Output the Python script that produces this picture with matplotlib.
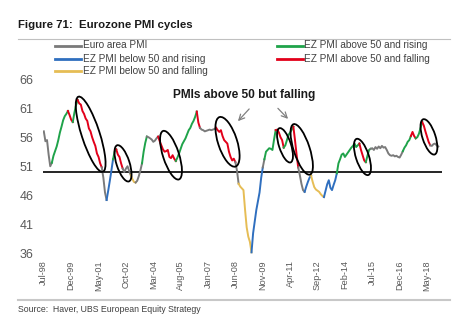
import numpy as np
import matplotlib
matplotlib.use("Agg")
import matplotlib.pyplot as plt
from matplotlib.patches import Ellipse
from matplotlib.lines import Line2D
from matplotlib.transforms import IdentityTransform

plt.rcParams['font.family'] = ['Liberation Sans', 'DejaVu Sans']

# Eurozone composite PMI, monthly from Jul-98
pmi = np.array([
    57.0, 55.3, 55.5, 53.0, 51.0, 51.6, 52.8, 53.6, 54.4, 55.5,
    56.8, 57.8, 58.9, 59.6, 60.0, 60.5, 59.8, 59.0, 58.6, 60.2,
    61.5, 62.4, 61.8, 61.6, 60.5, 60.0, 59.2, 58.8, 57.5, 57.0,
    56.0, 55.2, 54.5, 53.2, 52.6, 51.5, 50.8, 49.0, 46.5, 45.2,
    46.8, 48.5, 50.3, 52.2, 53.5, 53.9, 53.0, 52.6, 51.5, 50.6,
    50.0, 50.6, 51.0, 50.2, 49.5, 48.8, 48.3, 48.2, 48.5, 49.3,
    50.3, 51.5, 53.5, 55.0, 56.1, 56.0, 55.8, 55.6, 55.2, 55.4,
    55.8, 56.1, 55.3, 54.6, 53.9, 53.5, 53.6, 53.8, 52.6, 52.4,
    52.9, 52.3, 51.9, 52.5, 53.2, 54.0, 54.8, 55.3, 55.8, 56.5,
    57.2, 57.6, 58.3, 58.8, 59.5, 60.4, 58.5, 57.6, 57.3, 57.2,
    57.0, 57.1, 57.2, 57.3, 57.2, 57.3, 57.4, 57.6, 57.2, 56.9,
    57.2, 56.2, 55.5, 55.2, 54.9, 53.5, 52.6, 52.0, 52.3, 51.7,
    50.2, 48.0, 47.5, 47.2, 46.9, 43.5, 40.5, 38.9, 38.0, 36.2,
    39.5, 41.5, 43.5, 45.0, 46.5, 49.0, 50.8, 52.2, 53.5, 53.8,
    54.1, 54.0, 53.8, 55.6, 57.2, 57.3, 56.8, 56.0, 55.5, 54.2,
    54.6, 55.5, 56.4, 56.8, 57.3, 57.8, 55.5, 53.0, 50.8, 49.5,
    48.0, 46.9, 46.6, 47.5, 48.3, 49.0, 49.4, 48.3, 47.4, 47.0,
    46.8, 46.6, 46.2, 45.9, 45.7, 46.8, 47.9, 48.6, 47.3, 46.9,
    47.8, 48.6, 49.8, 51.5, 52.2, 53.0, 53.2, 52.6, 53.0, 53.4,
    53.8, 54.2, 54.5, 54.9, 54.3, 54.6, 54.9, 53.8, 52.9, 52.0,
    51.7, 52.8, 53.8, 54.0, 54.1, 53.8, 54.3, 54.0, 54.4, 54.1,
    54.5, 54.2, 54.3, 53.8, 53.2, 52.9, 52.8, 52.9, 52.7, 52.8,
    52.6, 52.5, 53.0, 53.6, 54.2, 54.6, 55.2, 55.5, 56.2, 56.9,
    56.2, 55.8, 56.0, 56.6, 57.6, 58.6, 58.0, 57.0, 56.1, 55.2,
    54.6, 54.5, 54.8, 54.9, 54.6, 54.4,
])

# cycle phases: month where each phase begins and its kind
phase_start = [0, 5, 15, 18, 21, 36, 39, 43, 45, 49,
               54, 57, 61, 64, 71, 82, 95, 97, 107, 119,
               121, 129, 136, 137, 144, 149, 155, 158, 162, 166,
               174, 182, 196, 200, 203, 223, 228, 231, 235, 240]
phase_kind = ['n', 'up', 'dn', 'up', 'dn', 'n', 'rise', 'up', 'dn', 'n',
              'fall', 'n', 'up', 'n', 'dn', 'up', 'dn', 'n', 'dn', 'n',
              'fall', 'rise', 'n', 'up', 'dn', 'up', 'dn', 'n', 'rise', 'fall',
              'rise', 'up', 'dn', 'up', 'n', 'up', 'dn', 'up', 'dn', 'n']

tick_labels = ["Jul-98", "Dec-99", "May-01", "Oct-02", "Mar-04", "Aug-05", "Jan-07",
               "Jun-08", "Nov-09", "Apr-11", "Sep-12", "Feb-14", "Jul-15", "Dec-16", "May-18"]
tick_step = 17

colours = {'n': '#7a7a7a', 'rise': '#2f6fbf', 'fall': '#e6bd55',
           'up': '#1fa34a', 'dn': '#e2001a'}
names = {'n': 'Euro area PMI', 'rise': 'EZ PMI below 50 and rising',
         'fall': 'EZ PMI below 50 and falling', 'up': 'EZ PMI above 50 and rising',
         'dn': 'EZ PMI above 50 and falling'}

# rings around the falling spells above 50 (centre month, centre value)
ring_month = [29.1, 49.2, 79.0, 114.1, 149.8, 160.2, 197.9, 239.2]
ring_value = [56.5, 51.5, 52.9, 55.2, 54.6, 53.9, 52.6, 56.05]
ring_len = [79, 38, 51, 52, 36, 53, 38, 37]
ring_wid = [18, 13, 16, 19, 12, 16, 13, 13]

W, H = 473, 328
fig = plt.figure(figsize=(W / 100, H / 100), dpi=100)


def fx(x):
    return x / W


def fy(y):
    return 1 - y / H


ax = fig.add_axes([fx(43), fy(253.5), 398.5 / W, 174.5 / H])

x = np.arange(len(pmi))
bounds = phase_start + [len(pmi) - 1]
for s, e, k in zip(bounds[:-1], bounds[1:], phase_kind):
    ax.plot(x[s:e + 1], pmi[s:e + 1], color=colours[k], lw=1.4,
            solid_joinstyle='round', zorder=3)

ax.axhline(50, color='black', lw=1.2, zorder=2)
ax.set_xlim(-0.5, 247)
ax.set_ylim(36, 66)
ax.set_yticks(range(36, 67, 5))
ax.set_xticks(np.arange(len(tick_labels)) * tick_step)
ax.set_xticklabels(tick_labels, rotation=90)
ax.tick_params(axis='y', length=0, pad=7, labelsize=9, labelcolor='#595959')
ax.tick_params(axis='x', length=0, pad=5, labelsize=6.6, labelcolor='#595959')
for sp in ax.spines.values():
    sp.set_visible(False)

# rings
for m, v, ln, wd in zip(ring_month, ring_value, ring_len, ring_wid):
    cx, cy = ax.transData.transform((m, v))
    ax.add_patch(Ellipse((cx, cy), ln, wd, angle=-72, fill=False, ec='black',
                         lw=1.3, transform=IdentityTransform(), clip_on=False, zorder=4))

ax.text(124.3, 63.2, 'PMIs above 50 but falling', ha='center', va='center',
        fontsize=8.6, fontweight='bold', color='#1a1a1a')
ax.annotate('', xy=(119.4, 58.4), xytext=(128.7, 61.2),
            arrowprops=dict(arrowstyle='->', color='#808080', lw=0.9))
ax.annotate('', xy=(152.9, 58.8), xytext=(144.2, 61.3),
            arrowprops=dict(arrowstyle='->', color='#808080', lw=0.9))

# legend
legend_pos = {'n': (55, 45.5), 'rise': (55, 58.5), 'fall': (55, 71),
              'up': (277, 45.5), 'dn': (277, 58.5)}
for k, (lx, ly) in legend_pos.items():
    fig.add_artist(Line2D([fx(lx), fx(lx + 26)], [fy(ly), fy(ly)],
                          transform=fig.transFigure, color=colours[k], lw=2))
    fig.text(fx(lx + 27.5), fy(ly), names[k], va='center', fontsize=7.2, color='#404040')

# title, rules and source
fig.text(fx(18), fy(24.5), 'Figure 71:  Eurozone PMI cycles', va='center',
         fontsize=8.2, fontweight='bold', color='#1a1a1a')
fig.add_artist(Line2D([fx(18), fx(450)], [fy(39), fy(39)], transform=fig.transFigure,
                      color='#c0c0c0', lw=0.8))
fig.add_artist(Line2D([fx(18), fx(450)], [fy(299.5), fy(299.5)], transform=fig.transFigure,
                      color='#c8c8c8', lw=1.5))
fig.text(fx(18), fy(310), 'Source:  Haver, UBS European Equity Strategy', va='center',
         fontsize=6.3, color='#404040')

fig.savefig('out.png', dpi=100)
